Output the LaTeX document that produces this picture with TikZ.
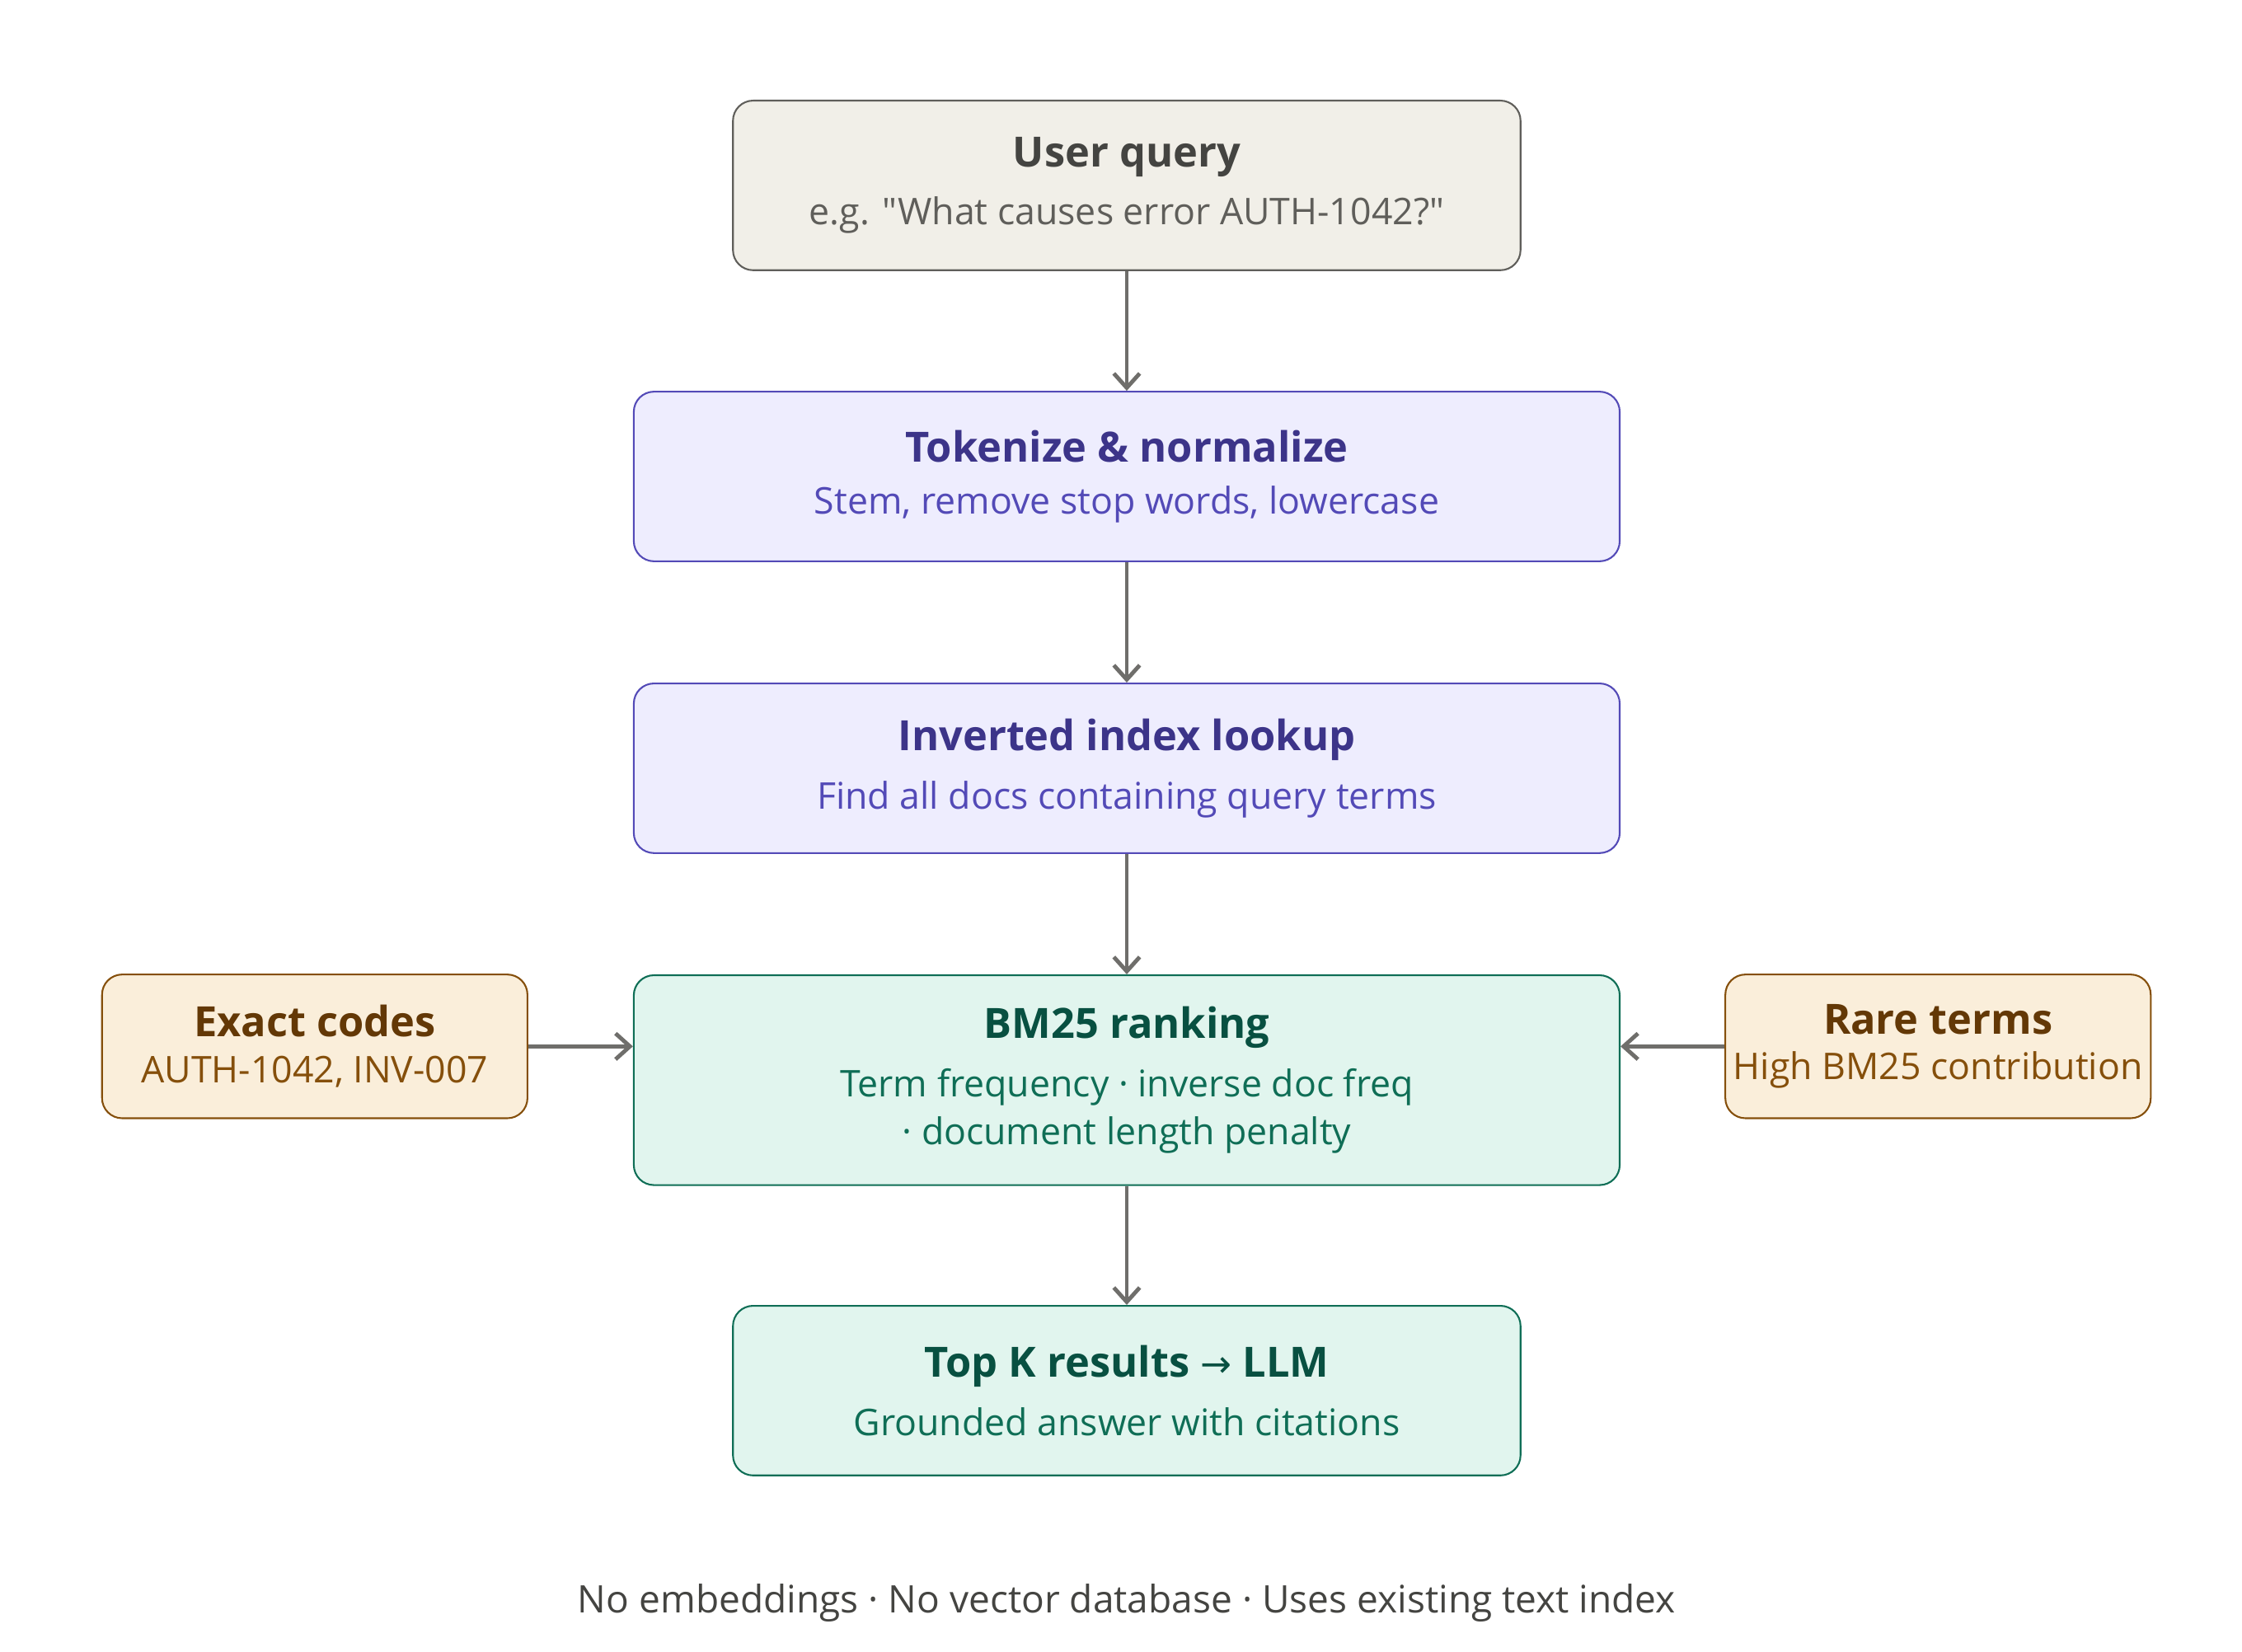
\documentclass[tikz,border=0pt]{standalone}
\usepackage{fontspec}
\setmainfont{Open Sans}[BoldFont={* Bold},Ligatures=TeXOff]
\newfontfamily\symfont{DejaVu Sans}
\usetikzlibrary{arrows.meta}
\definecolor{gF}{HTML}{F1EFE8}\definecolor{gS}{HTML}{5F5E5A}\definecolor{gT}{HTML}{444441}
\definecolor{pF}{HTML}{EEEDFE}\definecolor{pS}{HTML}{534AB7}\definecolor{pT}{HTML}{3C3489}
\definecolor{eF}{HTML}{E1F5EE}\definecolor{eS}{HTML}{0F6E56}\definecolor{eT}{HTML}{085041}
\definecolor{oF}{HTML}{FAEEDA}\definecolor{oS}{HTML}{854F0B}\definecolor{oT}{HTML}{633806}
\newcommand{\Ttl}[2]{\color{#1}\fontsize{14.5}{18}\selectfont\bfseries #2}
\newcommand{\Sub}[2]{\color{#1}\fontsize{12.8}{18}\selectfont\mdseries #2}
\begin{document}
\begin{tikzpicture}[x=0.5pt,y=-0.5pt,
 box/.style={draw,rounded corners=7pt,line width=0.6pt,align=center,inner sep=0pt},
 arr/.style={draw=gS!90,line width=1.4pt,-{Straight Barb[length=5pt,width=9pt]}}]
\useasboundingbox (0,0) rectangle (1560,1149);
\node[box,fill=gF,draw=gS,minimum width=274pt,minimum height=59pt] (uq) at (784,129)
 {\Ttl{gT}{User query}\\[6pt]\Sub{gS}{e.g. "What causes error AUTH-1042?"}};
\node[box,fill=pF,draw=pS,minimum width=343pt,minimum height=59pt] (tk) at (784,331.5)
 {\Ttl{pT}{Tokenize \& normalize}\\[6pt]\Sub{pS}{Stem, remove stop words, lowercase}};
\node[box,fill=pF,draw=pS,minimum width=343pt,minimum height=59pt] (ii) at (784,534.5)
 {\Ttl{pT}{Inverted index lookup}\\[6pt]\Sub{pS}{Find all docs containing query terms}};
\node[box,fill=eF,draw=eS,minimum width=343pt,minimum height=73pt] (bm) at (784,751.5)
 {\Ttl{eT}{BM25 ranking}\\[6pt]\Sub{eS}{Term frequency · inverse doc freq}\\[3pt]\Sub{eS}{· document length penalty}};
\node[box,fill=eF,draw=eS,minimum width=274pt,minimum height=59pt] (tk2) at (784,967.5)
 {\Ttl{eT}{Top K results {\symfont\mdseries\fontsize{13}{18}\selectfont →} LLM}\\[6pt]\Sub{eS}{Grounded answer with citations}};
\node[box,fill=oF,draw=oS,minimum width=148pt,minimum height=50pt] (ex) at (219,728)
 {\Ttl{oT}{Exact codes}\\[4pt]\Sub{oS}{AUTH-1042, INV-007}};
\node[box,fill=oF,draw=oS,minimum width=148pt,minimum height=50pt] (rt) at (1348.5,728)
 {\Ttl{oT}{Rare terms}\\[4pt]\Sub{oS}{High BM25 contribution}};
\node[font=\fontsize{13.2}{16}\selectfont,text=gT] (ft) at (784,1115) {No embeddings · No vector database · Uses existing text index};
\draw[arr] (uq) -- (tk);
\draw[arr] (tk) -- (ii);
\draw[arr] (ii) -- (bm);
\draw[arr] (bm) -- (tk2);
\draw[arr] (ex.east) -- (ex.east -| bm.west);
\draw[arr] (rt.west) -- (rt.west -| bm.east);
\end{tikzpicture}
\end{document}
